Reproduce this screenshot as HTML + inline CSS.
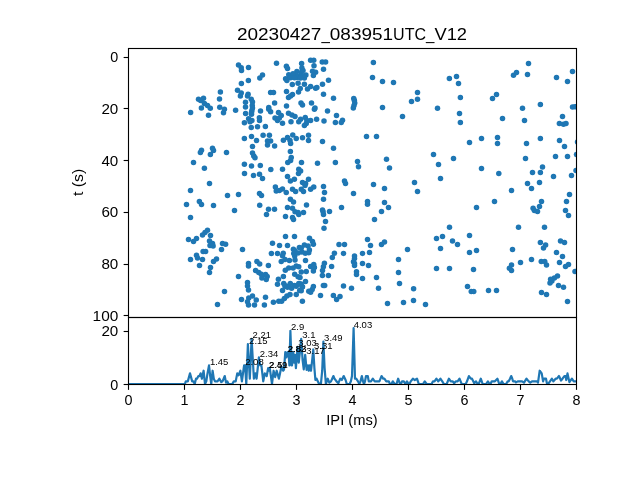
<!DOCTYPE html>
<html><head><meta charset="utf-8"><title>20230427_083951UTC_V12</title>
<style>
html,body{margin:0;padding:0;background:#fff;overflow:hidden}
svg{display:block;font-family:"Liberation Sans",sans-serif}
</style></head>
<body>
<svg width="640" height="480" viewBox="0 0 640 480">
<defs>
<clipPath id="c0"><rect x="128.0" y="48.0" width="448.0" height="268.8"/></clipPath>
<clipPath id="c1"><rect x="128.0" y="316.8" width="448.0" height="67.19999999999999"/></clipPath>
<filter id="gray" x="0" y="0" width="640" height="480" filterUnits="userSpaceOnUse" color-interpolation-filters="sRGB"><feColorMatrix type="saturate" values="0"/></filter>
</defs>
<rect width="640" height="480" fill="#fff"/>
<g id="dots" fill="#1f77b4" stroke="none" clip-path="url(#c0)">
<circle cx="238.5" cy="64.9" r="2.75"/>
<circle cx="241.25" cy="67.75" r="2.75"/>
<circle cx="241.5" cy="70.5" r="2.75"/>
<circle cx="248.5" cy="67.4" r="2.75"/>
<circle cx="248.4" cy="80.5" r="2.75"/>
<circle cx="241.4" cy="83.5" r="2.75"/>
<circle cx="237.5" cy="90.25" r="2.75"/>
<circle cx="241.25" cy="93" r="2.75"/>
<circle cx="240.4" cy="96.1" r="2.75"/>
<circle cx="248.1" cy="94.25" r="2.75"/>
<circle cx="247.5" cy="96.1" r="2.75"/>
<circle cx="220.4" cy="92.1" r="2.75"/>
<circle cx="219.5" cy="99.1" r="2.75"/>
<circle cx="198.5" cy="99.25" r="2.75"/>
<circle cx="200.6" cy="100.5" r="2.75"/>
<circle cx="203.5" cy="98.25" r="2.75"/>
<circle cx="251.25" cy="99.25" r="2.75"/>
<circle cx="252.5" cy="102" r="2.75"/>
<circle cx="245.5" cy="102.25" r="2.75"/>
<circle cx="204.4" cy="103.6" r="2.75"/>
<circle cx="207.5" cy="105.5" r="2.75"/>
<circle cx="252.25" cy="105.5" r="2.75"/>
<circle cx="201.4" cy="108" r="2.75"/>
<circle cx="210.3" cy="108.2" r="2.75"/>
<circle cx="219.75" cy="107.3" r="2.75"/>
<circle cx="245.5" cy="107" r="2.75"/>
<circle cx="276.5" cy="63.3" r="2.75"/>
<circle cx="286.4" cy="66.3" r="2.75"/>
<circle cx="287.5" cy="68.4" r="2.75"/>
<circle cx="262.5" cy="75" r="2.75"/>
<circle cx="259.8" cy="77.9" r="2.75"/>
<circle cx="301.6" cy="63.4" r="2.75"/>
<circle cx="310.6" cy="60.25" r="2.75"/>
<circle cx="313.75" cy="60.25" r="2.75"/>
<circle cx="322.25" cy="62.1" r="2.75"/>
<circle cx="325.6" cy="62.1" r="2.75"/>
<circle cx="314" cy="65.7" r="2.75"/>
<circle cx="323.5" cy="69.25" r="2.75"/>
<circle cx="312.5" cy="71.25" r="2.75"/>
<circle cx="315.6" cy="72.2" r="2.75"/>
<circle cx="313.4" cy="75.6" r="2.75"/>
<circle cx="328.5" cy="80.25" r="2.75"/>
<circle cx="322.5" cy="84.25" r="2.75"/>
<circle cx="323.5" cy="94.25" r="2.75"/>
<circle cx="333.5" cy="98.25" r="2.75"/>
<circle cx="270.6" cy="92.4" r="2.75"/>
<circle cx="273.5" cy="92.4" r="2.75"/>
<circle cx="286.5" cy="91.4" r="2.75"/>
<circle cx="292.5" cy="94.5" r="2.75"/>
<circle cx="290.6" cy="96.1" r="2.75"/>
<circle cx="288.5" cy="97.4" r="2.75"/>
<circle cx="298.5" cy="92" r="2.75"/>
<circle cx="300.25" cy="88.6" r="2.75"/>
<circle cx="292.3" cy="84.4" r="2.75"/>
<circle cx="298.1" cy="83.2" r="2.75"/>
<circle cx="304.4" cy="84.3" r="2.75"/>
<circle cx="307.5" cy="89" r="2.75"/>
<circle cx="310.6" cy="86.4" r="2.75"/>
<circle cx="315.6" cy="88.2" r="2.75"/>
<circle cx="316.9" cy="87.5" r="2.75"/>
<circle cx="274.6" cy="103" r="2.75"/>
<circle cx="268.75" cy="107.6" r="2.75"/>
<circle cx="286.5" cy="106.1" r="2.75"/>
<circle cx="301" cy="103" r="2.75"/>
<circle cx="302.5" cy="104.9" r="2.75"/>
<circle cx="311.5" cy="103" r="2.75"/>
<circle cx="315" cy="108" r="2.75"/>
<circle cx="285.6" cy="78.75" r="2.75"/>
<circle cx="288.75" cy="74.7" r="2.75"/>
<circle cx="296.9" cy="71.6" r="2.75"/>
<circle cx="301.9" cy="68.1" r="2.75"/>
<circle cx="305.9" cy="75" r="2.75"/>
<circle cx="304.4" cy="78.1" r="2.75"/>
<circle cx="292.5" cy="76.9" r="2.75"/>
<circle cx="298.75" cy="76.25" r="2.75"/>
<circle cx="301.25" cy="72.5" r="2.75"/>
<circle cx="295.6" cy="74.4" r="2.75"/>
<circle cx="286.9" cy="80.6" r="2.75"/>
<circle cx="297" cy="77.6" r="2.75"/>
<circle cx="293" cy="73.8" r="2.75"/>
<circle cx="290.5" cy="77.8" r="2.75"/>
<circle cx="303" cy="70.5" r="2.75"/>
<circle cx="294.5" cy="77.8" r="2.75"/>
<circle cx="302" cy="76" r="2.75"/>
<circle cx="300.5" cy="78" r="2.75"/>
<circle cx="373.4" cy="62.5" r="2.75"/>
<circle cx="372.5" cy="77.5" r="2.75"/>
<circle cx="382.5" cy="81.4" r="2.75"/>
<circle cx="393.5" cy="82.4" r="2.75"/>
<circle cx="417.5" cy="92.4" r="2.75"/>
<circle cx="417.5" cy="99.25" r="2.75"/>
<circle cx="411.5" cy="101.4" r="2.75"/>
<circle cx="353.75" cy="98.4" r="2.75"/>
<circle cx="354.4" cy="100.5" r="2.75"/>
<circle cx="354.75" cy="103" r="2.75"/>
<circle cx="354" cy="105.5" r="2.75"/>
<circle cx="353.3" cy="107.9" r="2.75"/>
<circle cx="382.5" cy="107.5" r="2.75"/>
<circle cx="449.4" cy="78.4" r="2.75"/>
<circle cx="456.5" cy="76.4" r="2.75"/>
<circle cx="458.5" cy="83.5" r="2.75"/>
<circle cx="460.4" cy="97.5" r="2.75"/>
<circle cx="496.5" cy="94.4" r="2.75"/>
<circle cx="492.5" cy="98.5" r="2.75"/>
<circle cx="437.5" cy="108.2" r="2.75"/>
<circle cx="528.5" cy="63.4" r="2.75"/>
<circle cx="516.5" cy="72.4" r="2.75"/>
<circle cx="513.5" cy="75.25" r="2.75"/>
<circle cx="527.5" cy="74.5" r="2.75"/>
<circle cx="556.5" cy="77.4" r="2.75"/>
<circle cx="567.5" cy="81.4" r="2.75"/>
<circle cx="572.5" cy="71.4" r="2.75"/>
<circle cx="540.4" cy="104.4" r="2.75"/>
<circle cx="522.5" cy="108.2" r="2.75"/>
<circle cx="572.5" cy="107" r="2.75"/>
<circle cx="575" cy="106.75" r="2.75"/>
<circle cx="190.6" cy="112.4" r="2.75"/>
<circle cx="208.5" cy="115.25" r="2.75"/>
<circle cx="224.4" cy="109.25" r="2.75"/>
<circle cx="223.5" cy="112.75" r="2.75"/>
<circle cx="235.6" cy="110.25" r="2.75"/>
<circle cx="245.6" cy="113.6" r="2.75"/>
<circle cx="252.5" cy="108" r="2.75"/>
<circle cx="251.9" cy="110.5" r="2.75"/>
<circle cx="251.5" cy="114.25" r="2.75"/>
<circle cx="248.6" cy="118.8" r="2.75"/>
<circle cx="251.5" cy="112.4" r="2.75"/>
<circle cx="251.9" cy="120.5" r="2.75"/>
<circle cx="250" cy="121.75" r="2.75"/>
<circle cx="244.4" cy="122.75" r="2.75"/>
<circle cx="251.25" cy="127.4" r="2.75"/>
<circle cx="257.5" cy="126.75" r="2.75"/>
<circle cx="244.4" cy="138.4" r="2.75"/>
<circle cx="251.5" cy="136.4" r="2.75"/>
<circle cx="256.5" cy="140.5" r="2.75"/>
<circle cx="252.5" cy="146.4" r="2.75"/>
<circle cx="252.5" cy="153" r="2.75"/>
<circle cx="253.75" cy="156.1" r="2.75"/>
<circle cx="255" cy="157.75" r="2.75"/>
<circle cx="212.5" cy="148.25" r="2.75"/>
<circle cx="213.5" cy="150.5" r="2.75"/>
<circle cx="210.4" cy="154.5" r="2.75"/>
<circle cx="201.5" cy="150.25" r="2.75"/>
<circle cx="200.4" cy="152.4" r="2.75"/>
<circle cx="226.5" cy="152.4" r="2.75"/>
<circle cx="193.5" cy="162.4" r="2.75"/>
<circle cx="204.4" cy="168.2" r="2.75"/>
<circle cx="244.4" cy="164.25" r="2.75"/>
<circle cx="251.5" cy="166.1" r="2.75"/>
<circle cx="260.5" cy="110.9" r="2.75"/>
<circle cx="268.75" cy="109.25" r="2.75"/>
<circle cx="270.6" cy="111.75" r="2.75"/>
<circle cx="259.4" cy="117.75" r="2.75"/>
<circle cx="259.5" cy="120.6" r="2.75"/>
<circle cx="265.4" cy="126.4" r="2.75"/>
<circle cx="278.5" cy="112.4" r="2.75"/>
<circle cx="281.25" cy="115.5" r="2.75"/>
<circle cx="275" cy="118" r="2.75"/>
<circle cx="277.5" cy="120.5" r="2.75"/>
<circle cx="282.5" cy="123.25" r="2.75"/>
<circle cx="279.4" cy="118" r="2.75"/>
<circle cx="288.5" cy="113.25" r="2.75"/>
<circle cx="291.9" cy="114.9" r="2.75"/>
<circle cx="295" cy="116.5" r="2.75"/>
<circle cx="291" cy="121.75" r="2.75"/>
<circle cx="300.6" cy="119.25" r="2.75"/>
<circle cx="298.75" cy="121.75" r="2.75"/>
<circle cx="305.25" cy="117.4" r="2.75"/>
<circle cx="306.9" cy="120.5" r="2.75"/>
<circle cx="306.25" cy="123.6" r="2.75"/>
<circle cx="304.4" cy="125.5" r="2.75"/>
<circle cx="310.6" cy="120.5" r="2.75"/>
<circle cx="316.6" cy="119.25" r="2.75"/>
<circle cx="324" cy="121.1" r="2.75"/>
<circle cx="314.4" cy="109.25" r="2.75"/>
<circle cx="327.5" cy="111.1" r="2.75"/>
<circle cx="336.5" cy="115.5" r="2.75"/>
<circle cx="335.4" cy="122.4" r="2.75"/>
<circle cx="263.1" cy="135.25" r="2.75"/>
<circle cx="269.4" cy="135.25" r="2.75"/>
<circle cx="267.5" cy="141.1" r="2.75"/>
<circle cx="270.6" cy="141.1" r="2.75"/>
<circle cx="267.5" cy="144.9" r="2.75"/>
<circle cx="274.6" cy="146.1" r="2.75"/>
<circle cx="283.4" cy="140.25" r="2.75"/>
<circle cx="287.5" cy="137.4" r="2.75"/>
<circle cx="290" cy="140.5" r="2.75"/>
<circle cx="290.6" cy="143.6" r="2.75"/>
<circle cx="292.75" cy="134.9" r="2.75"/>
<circle cx="296.25" cy="138.6" r="2.75"/>
<circle cx="302.5" cy="137.75" r="2.75"/>
<circle cx="308.5" cy="135.25" r="2.75"/>
<circle cx="308.5" cy="140.5" r="2.75"/>
<circle cx="322.5" cy="141.4" r="2.75"/>
<circle cx="333.5" cy="148.25" r="2.75"/>
<circle cx="290.4" cy="151.4" r="2.75"/>
<circle cx="291.25" cy="157.4" r="2.75"/>
<circle cx="290.6" cy="160.5" r="2.75"/>
<circle cx="287.75" cy="162.4" r="2.75"/>
<circle cx="301.5" cy="162.4" r="2.75"/>
<circle cx="317.5" cy="163.25" r="2.75"/>
<circle cx="335.4" cy="162.4" r="2.75"/>
<circle cx="260.3" cy="165.5" r="2.75"/>
<circle cx="402.5" cy="116.4" r="2.75"/>
<circle cx="342.5" cy="120.25" r="2.75"/>
<circle cx="341.25" cy="122.4" r="2.75"/>
<circle cx="366.5" cy="136.4" r="2.75"/>
<circle cx="376.5" cy="136.4" r="2.75"/>
<circle cx="386.5" cy="159.25" r="2.75"/>
<circle cx="357.5" cy="161.4" r="2.75"/>
<circle cx="358.5" cy="166.75" r="2.75"/>
<circle cx="389.5" cy="168" r="2.75"/>
<circle cx="459.5" cy="113.4" r="2.75"/>
<circle cx="460.4" cy="122.5" r="2.75"/>
<circle cx="481.5" cy="138.4" r="2.75"/>
<circle cx="469.5" cy="142.4" r="2.75"/>
<circle cx="497.5" cy="137.4" r="2.75"/>
<circle cx="497.5" cy="143.4" r="2.75"/>
<circle cx="433.5" cy="154.4" r="2.75"/>
<circle cx="453.5" cy="158.4" r="2.75"/>
<circle cx="438.5" cy="164.4" r="2.75"/>
<circle cx="481.5" cy="168.5" r="2.75"/>
<circle cx="502.5" cy="118.4" r="2.75"/>
<circle cx="524.5" cy="120.4" r="2.75"/>
<circle cx="562.5" cy="116.4" r="2.75"/>
<circle cx="559.4" cy="123.6" r="2.75"/>
<circle cx="563.5" cy="124.25" r="2.75"/>
<circle cx="566" cy="123.6" r="2.75"/>
<circle cx="540.4" cy="138.4" r="2.75"/>
<circle cx="526.5" cy="143.4" r="2.75"/>
<circle cx="559.5" cy="140.4" r="2.75"/>
<circle cx="564.5" cy="146.4" r="2.75"/>
<circle cx="525.5" cy="158.4" r="2.75"/>
<circle cx="555.5" cy="156.4" r="2.75"/>
<circle cx="567.5" cy="156.4" r="2.75"/>
<circle cx="576.5" cy="154.5" r="2.75"/>
<circle cx="577.5" cy="142" r="2.75"/>
<circle cx="542.5" cy="167" r="2.75"/>
<circle cx="244.5" cy="173.4" r="2.75"/>
<circle cx="253.5" cy="175.4" r="2.75"/>
<circle cx="259.5" cy="174.25" r="2.75"/>
<circle cx="209.5" cy="183.4" r="2.75"/>
<circle cx="190.5" cy="190.4" r="2.75"/>
<circle cx="227.5" cy="195.4" r="2.75"/>
<circle cx="238.5" cy="194.4" r="2.75"/>
<circle cx="199.4" cy="201.4" r="2.75"/>
<circle cx="201.5" cy="204.4" r="2.75"/>
<circle cx="186.5" cy="204.4" r="2.75"/>
<circle cx="213.5" cy="205.4" r="2.75"/>
<circle cx="234.5" cy="210.4" r="2.75"/>
<circle cx="190.5" cy="217.4" r="2.75"/>
<circle cx="270.8" cy="169.5" r="2.75"/>
<circle cx="282.5" cy="169.25" r="2.75"/>
<circle cx="298.75" cy="169.25" r="2.75"/>
<circle cx="300.6" cy="171.1" r="2.75"/>
<circle cx="298.5" cy="173.6" r="2.75"/>
<circle cx="262.5" cy="178.6" r="2.75"/>
<circle cx="287.5" cy="176.4" r="2.75"/>
<circle cx="290.4" cy="181.1" r="2.75"/>
<circle cx="294.4" cy="179.25" r="2.75"/>
<circle cx="308.5" cy="179.25" r="2.75"/>
<circle cx="302.5" cy="182.4" r="2.75"/>
<circle cx="305.6" cy="183.6" r="2.75"/>
<circle cx="305" cy="185.5" r="2.75"/>
<circle cx="313.75" cy="187.1" r="2.75"/>
<circle cx="310.6" cy="189.25" r="2.75"/>
<circle cx="323.5" cy="186.4" r="2.75"/>
<circle cx="324.5" cy="192.4" r="2.75"/>
<circle cx="323.5" cy="199.25" r="2.75"/>
<circle cx="275.4" cy="187.1" r="2.75"/>
<circle cx="276.25" cy="191.1" r="2.75"/>
<circle cx="279.4" cy="190.5" r="2.75"/>
<circle cx="282.5" cy="189" r="2.75"/>
<circle cx="286.25" cy="192.4" r="2.75"/>
<circle cx="292.5" cy="189.25" r="2.75"/>
<circle cx="295.6" cy="191.5" r="2.75"/>
<circle cx="301.25" cy="189.25" r="2.75"/>
<circle cx="303.5" cy="191.5" r="2.75"/>
<circle cx="259.5" cy="193.5" r="2.75"/>
<circle cx="261.5" cy="195.5" r="2.75"/>
<circle cx="290.4" cy="199.25" r="2.75"/>
<circle cx="293.5" cy="202" r="2.75"/>
<circle cx="306.5" cy="205.1" r="2.75"/>
<circle cx="259.7" cy="205.3" r="2.75"/>
<circle cx="287.5" cy="207.4" r="2.75"/>
<circle cx="292.5" cy="208.25" r="2.75"/>
<circle cx="295" cy="211.75" r="2.75"/>
<circle cx="298.1" cy="212.4" r="2.75"/>
<circle cx="298.75" cy="214.5" r="2.75"/>
<circle cx="303.5" cy="212.4" r="2.75"/>
<circle cx="268.5" cy="209.25" r="2.75"/>
<circle cx="274.5" cy="209.25" r="2.75"/>
<circle cx="266.5" cy="214.4" r="2.75"/>
<circle cx="285.5" cy="216.4" r="2.75"/>
<circle cx="292.5" cy="217.4" r="2.75"/>
<circle cx="293.5" cy="219.5" r="2.75"/>
<circle cx="322.5" cy="209.9" r="2.75"/>
<circle cx="323.1" cy="211.75" r="2.75"/>
<circle cx="323.5" cy="214.5" r="2.75"/>
<circle cx="329.5" cy="211.4" r="2.75"/>
<circle cx="325.5" cy="221.4" r="2.75"/>
<circle cx="324" cy="228.2" r="2.75"/>
<circle cx="344.5" cy="181.1" r="2.75"/>
<circle cx="345.5" cy="183.6" r="2.75"/>
<circle cx="373.5" cy="184.4" r="2.75"/>
<circle cx="384.5" cy="188.4" r="2.75"/>
<circle cx="414.5" cy="182.4" r="2.75"/>
<circle cx="417.5" cy="191.4" r="2.75"/>
<circle cx="353.5" cy="193.4" r="2.75"/>
<circle cx="367.5" cy="201.4" r="2.75"/>
<circle cx="367.5" cy="204.25" r="2.75"/>
<circle cx="384.5" cy="202.4" r="2.75"/>
<circle cx="388.5" cy="207.4" r="2.75"/>
<circle cx="381.5" cy="211.4" r="2.75"/>
<circle cx="341.5" cy="207.4" r="2.75"/>
<circle cx="374.5" cy="219.4" r="2.75"/>
<circle cx="498.8" cy="173.4" r="2.75"/>
<circle cx="440.5" cy="178.4" r="2.75"/>
<circle cx="494.5" cy="201.4" r="2.75"/>
<circle cx="476.5" cy="207.4" r="2.75"/>
<circle cx="449.5" cy="227.3" r="2.75"/>
<circle cx="532.5" cy="172.4" r="2.75"/>
<circle cx="540.4" cy="172.4" r="2.75"/>
<circle cx="553.5" cy="176.4" r="2.75"/>
<circle cx="571.5" cy="175.4" r="2.75"/>
<circle cx="576" cy="170.5" r="2.75"/>
<circle cx="527.5" cy="183.4" r="2.75"/>
<circle cx="539.5" cy="182.4" r="2.75"/>
<circle cx="531.5" cy="188.4" r="2.75"/>
<circle cx="511.5" cy="190.4" r="2.75"/>
<circle cx="569.5" cy="194.4" r="2.75"/>
<circle cx="566.5" cy="201.4" r="2.75"/>
<circle cx="541.5" cy="201.4" r="2.75"/>
<circle cx="539.5" cy="206.4" r="2.75"/>
<circle cx="533.1" cy="208.25" r="2.75"/>
<circle cx="534.4" cy="210.5" r="2.75"/>
<circle cx="537.5" cy="211.5" r="2.75"/>
<circle cx="565.5" cy="210.4" r="2.75"/>
<circle cx="568.5" cy="215.4" r="2.75"/>
<circle cx="518.5" cy="227.3" r="2.75"/>
<circle cx="544.5" cy="227.3" r="2.75"/>
<circle cx="207.5" cy="230.25" r="2.75"/>
<circle cx="205" cy="232.4" r="2.75"/>
<circle cx="202.5" cy="234.9" r="2.75"/>
<circle cx="210.5" cy="235.4" r="2.75"/>
<circle cx="188.5" cy="239.4" r="2.75"/>
<circle cx="196.5" cy="238.4" r="2.75"/>
<circle cx="193.5" cy="241.4" r="2.75"/>
<circle cx="209.5" cy="241.1" r="2.75"/>
<circle cx="212.5" cy="243.6" r="2.75"/>
<circle cx="210" cy="245.5" r="2.75"/>
<circle cx="213.1" cy="246.1" r="2.75"/>
<circle cx="222.5" cy="243.4" r="2.75"/>
<circle cx="225.6" cy="244.25" r="2.75"/>
<circle cx="221.5" cy="249.4" r="2.75"/>
<circle cx="242.5" cy="249.4" r="2.75"/>
<circle cx="203.1" cy="251.4" r="2.75"/>
<circle cx="205.6" cy="251.4" r="2.75"/>
<circle cx="196.5" cy="255.25" r="2.75"/>
<circle cx="197.5" cy="258" r="2.75"/>
<circle cx="202.5" cy="259.4" r="2.75"/>
<circle cx="190.5" cy="259.4" r="2.75"/>
<circle cx="199.5" cy="265.4" r="2.75"/>
<circle cx="216.5" cy="258.9" r="2.75"/>
<circle cx="213.5" cy="261.4" r="2.75"/>
<circle cx="210.5" cy="267.4" r="2.75"/>
<circle cx="209.5" cy="272.4" r="2.75"/>
<circle cx="248.5" cy="263.4" r="2.75"/>
<circle cx="248.5" cy="265.9" r="2.75"/>
<circle cx="256.9" cy="261.4" r="2.75"/>
<circle cx="259.7" cy="263.9" r="2.75"/>
<circle cx="255.6" cy="270.5" r="2.75"/>
<circle cx="258.75" cy="272.4" r="2.75"/>
<circle cx="238.5" cy="276.4" r="2.75"/>
<circle cx="247.5" cy="282.4" r="2.75"/>
<circle cx="247.5" cy="286.1" r="2.75"/>
<circle cx="285.5" cy="236.4" r="2.75"/>
<circle cx="294.5" cy="236.4" r="2.75"/>
<circle cx="272.5" cy="243.3" r="2.75"/>
<circle cx="279.5" cy="245.5" r="2.75"/>
<circle cx="287.5" cy="245.4" r="2.75"/>
<circle cx="293.4" cy="249.25" r="2.75"/>
<circle cx="295" cy="250.8" r="2.75"/>
<circle cx="293.75" cy="253.6" r="2.75"/>
<circle cx="294.7" cy="256.1" r="2.75"/>
<circle cx="298.1" cy="253" r="2.75"/>
<circle cx="299.4" cy="247.4" r="2.75"/>
<circle cx="271.4" cy="253.5" r="2.75"/>
<circle cx="277.5" cy="253.5" r="2.75"/>
<circle cx="283.25" cy="253.3" r="2.75"/>
<circle cx="282.5" cy="255.8" r="2.75"/>
<circle cx="309.5" cy="238.3" r="2.75"/>
<circle cx="312.5" cy="241.4" r="2.75"/>
<circle cx="313.4" cy="244.25" r="2.75"/>
<circle cx="304.4" cy="244.9" r="2.75"/>
<circle cx="308.1" cy="246.1" r="2.75"/>
<circle cx="309.4" cy="249.9" r="2.75"/>
<circle cx="308.75" cy="252.7" r="2.75"/>
<circle cx="305.3" cy="253.3" r="2.75"/>
<circle cx="301.9" cy="252.1" r="2.75"/>
<circle cx="301.25" cy="248" r="2.75"/>
<circle cx="339" cy="244.4" r="2.75"/>
<circle cx="334.4" cy="253.3" r="2.75"/>
<circle cx="332.3" cy="257.5" r="2.75"/>
<circle cx="268.4" cy="265.4" r="2.75"/>
<circle cx="281.25" cy="261.4" r="2.75"/>
<circle cx="285" cy="259.4" r="2.75"/>
<circle cx="289.4" cy="260.5" r="2.75"/>
<circle cx="295" cy="259.9" r="2.75"/>
<circle cx="285.3" cy="270.2" r="2.75"/>
<circle cx="288.75" cy="268" r="2.75"/>
<circle cx="293.1" cy="268" r="2.75"/>
<circle cx="296.25" cy="266.1" r="2.75"/>
<circle cx="298.75" cy="266.75" r="2.75"/>
<circle cx="294.7" cy="274.25" r="2.75"/>
<circle cx="298.1" cy="276.75" r="2.75"/>
<circle cx="283.4" cy="276.4" r="2.75"/>
<circle cx="278.4" cy="279.25" r="2.75"/>
<circle cx="277.5" cy="284.25" r="2.75"/>
<circle cx="283.75" cy="283.6" r="2.75"/>
<circle cx="286.25" cy="286.1" r="2.75"/>
<circle cx="290.3" cy="283.6" r="2.75"/>
<circle cx="294.4" cy="285.5" r="2.75"/>
<circle cx="298.75" cy="283.6" r="2.75"/>
<circle cx="261.25" cy="274.25" r="2.75"/>
<circle cx="265.6" cy="274.6" r="2.75"/>
<circle cx="267.2" cy="276.4" r="2.75"/>
<circle cx="266.25" cy="279.6" r="2.75"/>
<circle cx="261.9" cy="278" r="2.75"/>
<circle cx="305.5" cy="260.4" r="2.75"/>
<circle cx="310.6" cy="266.4" r="2.75"/>
<circle cx="313.75" cy="264.6" r="2.75"/>
<circle cx="314.4" cy="267.4" r="2.75"/>
<circle cx="313.4" cy="271.1" r="2.75"/>
<circle cx="301.25" cy="272" r="2.75"/>
<circle cx="306.25" cy="271.4" r="2.75"/>
<circle cx="324.4" cy="263.3" r="2.75"/>
<circle cx="323.4" cy="266.75" r="2.75"/>
<circle cx="322.5" cy="270.5" r="2.75"/>
<circle cx="322.4" cy="275.5" r="2.75"/>
<circle cx="331.6" cy="266.4" r="2.75"/>
<circle cx="328.4" cy="275.5" r="2.75"/>
<circle cx="305.5" cy="281.4" r="2.75"/>
<circle cx="300" cy="277.4" r="2.75"/>
<circle cx="301.25" cy="284.25" r="2.75"/>
<circle cx="302.5" cy="286.75" r="2.75"/>
<circle cx="313.4" cy="286.4" r="2.75"/>
<circle cx="323.4" cy="285.4" r="2.75"/>
<circle cx="324.7" cy="285.4" r="2.75"/>
<circle cx="265.5" cy="297.25" r="2.75"/>
<circle cx="264.4" cy="305" r="2.75"/>
<circle cx="273.4" cy="302.25" r="2.75"/>
<circle cx="278.75" cy="301.3" r="2.75"/>
<circle cx="281.6" cy="301.3" r="2.75"/>
<circle cx="284.4" cy="298.5" r="2.75"/>
<circle cx="286.9" cy="296" r="2.75"/>
<circle cx="290" cy="294.4" r="2.75"/>
<circle cx="296.25" cy="294.4" r="2.75"/>
<circle cx="299.7" cy="290.4" r="2.75"/>
<circle cx="285" cy="286.3" r="2.75"/>
<circle cx="282.5" cy="290.4" r="2.75"/>
<circle cx="287.5" cy="287.25" r="2.75"/>
<circle cx="291.6" cy="288.2" r="2.75"/>
<circle cx="296.25" cy="286.3" r="2.75"/>
<circle cx="312.2" cy="289.4" r="2.75"/>
<circle cx="308.75" cy="291.3" r="2.75"/>
<circle cx="310.6" cy="292.25" r="2.75"/>
<circle cx="300.6" cy="284.1" r="2.75"/>
<circle cx="302.2" cy="286.9" r="2.75"/>
<circle cx="301.25" cy="290.7" r="2.75"/>
<circle cx="320.5" cy="295.4" r="2.75"/>
<circle cx="333.4" cy="295.4" r="2.75"/>
<circle cx="336.6" cy="299.4" r="2.75"/>
<circle cx="340" cy="296.5" r="2.75"/>
<circle cx="302.4" cy="301.3" r="2.75"/>
<circle cx="344.5" cy="244.4" r="2.75"/>
<circle cx="367.5" cy="239.4" r="2.75"/>
<circle cx="370.5" cy="245.4" r="2.75"/>
<circle cx="384.5" cy="242.1" r="2.75"/>
<circle cx="381.5" cy="244.4" r="2.75"/>
<circle cx="407.5" cy="249.4" r="2.75"/>
<circle cx="343.5" cy="253.4" r="2.75"/>
<circle cx="362.5" cy="253.4" r="2.75"/>
<circle cx="369.5" cy="252.4" r="2.75"/>
<circle cx="354.5" cy="256.1" r="2.75"/>
<circle cx="354.5" cy="258.6" r="2.75"/>
<circle cx="353.5" cy="261.75" r="2.75"/>
<circle cx="354.5" cy="263.6" r="2.75"/>
<circle cx="354.5" cy="265.5" r="2.75"/>
<circle cx="362.5" cy="263.4" r="2.75"/>
<circle cx="368.5" cy="265.4" r="2.75"/>
<circle cx="398.5" cy="259.4" r="2.75"/>
<circle cx="356.5" cy="271.75" r="2.75"/>
<circle cx="356.5" cy="274.5" r="2.75"/>
<circle cx="362.5" cy="278.4" r="2.75"/>
<circle cx="376.5" cy="277.4" r="2.75"/>
<circle cx="398.5" cy="272.4" r="2.75"/>
<circle cx="399.5" cy="283.4" r="2.75"/>
<circle cx="343.5" cy="286.1" r="2.75"/>
<circle cx="351.5" cy="288.2" r="2.75"/>
<circle cx="378.5" cy="288.2" r="2.75"/>
<circle cx="413.6" cy="288.8" r="2.75"/>
<circle cx="442.5" cy="236.4" r="2.75"/>
<circle cx="436.5" cy="238.4" r="2.75"/>
<circle cx="469.5" cy="235.4" r="2.75"/>
<circle cx="452.5" cy="241.1" r="2.75"/>
<circle cx="457.5" cy="244.4" r="2.75"/>
<circle cx="440.5" cy="248.4" r="2.75"/>
<circle cx="476.5" cy="250.4" r="2.75"/>
<circle cx="469.5" cy="252.4" r="2.75"/>
<circle cx="436.5" cy="268.4" r="2.75"/>
<circle cx="449.5" cy="268.4" r="2.75"/>
<circle cx="473.5" cy="269.4" r="2.75"/>
<circle cx="467.5" cy="286.4" r="2.75"/>
<circle cx="540.4" cy="242.4" r="2.75"/>
<circle cx="545.6" cy="244.9" r="2.75"/>
<circle cx="543.5" cy="248" r="2.75"/>
<circle cx="560.5" cy="241.1" r="2.75"/>
<circle cx="564.5" cy="242.4" r="2.75"/>
<circle cx="512.5" cy="249.4" r="2.75"/>
<circle cx="556.5" cy="252.4" r="2.75"/>
<circle cx="562.5" cy="256.4" r="2.75"/>
<circle cx="531.5" cy="259.4" r="2.75"/>
<circle cx="520.5" cy="262.4" r="2.75"/>
<circle cx="541.25" cy="261.4" r="2.75"/>
<circle cx="544.75" cy="261.4" r="2.75"/>
<circle cx="546.5" cy="265.1" r="2.75"/>
<circle cx="559.5" cy="262.4" r="2.75"/>
<circle cx="568.5" cy="264.4" r="2.75"/>
<circle cx="565.5" cy="266.4" r="2.75"/>
<circle cx="511.5" cy="265.1" r="2.75"/>
<circle cx="509.4" cy="268.25" r="2.75"/>
<circle cx="511.5" cy="270.5" r="2.75"/>
<circle cx="575" cy="271.4" r="2.75"/>
<circle cx="557.5" cy="276.1" r="2.75"/>
<circle cx="554.4" cy="278" r="2.75"/>
<circle cx="550.6" cy="279.25" r="2.75"/>
<circle cx="551.9" cy="281.1" r="2.75"/>
<circle cx="550" cy="283" r="2.75"/>
<circle cx="558.5" cy="285.4" r="2.75"/>
<circle cx="563.5" cy="287.3" r="2.75"/>
<circle cx="224.5" cy="291.4" r="2.75"/>
<circle cx="217.5" cy="304.4" r="2.75"/>
<circle cx="248.5" cy="289.9" r="2.75"/>
<circle cx="241.5" cy="299.4" r="2.75"/>
<circle cx="248.75" cy="298" r="2.75"/>
<circle cx="252.5" cy="296.1" r="2.75"/>
<circle cx="256.25" cy="299.9" r="2.75"/>
<circle cx="247.5" cy="301.75" r="2.75"/>
<circle cx="248.5" cy="304.9" r="2.75"/>
<circle cx="254.5" cy="304.9" r="2.75"/>
<circle cx="387.5" cy="303.4" r="2.75"/>
<circle cx="403.5" cy="302.4" r="2.75"/>
<circle cx="413.5" cy="300.4" r="2.75"/>
<circle cx="425.5" cy="304.4" r="2.75"/>
<circle cx="471.25" cy="291.4" r="2.75"/>
<circle cx="473.75" cy="291.4" r="2.75"/>
<circle cx="488.5" cy="290.4" r="2.75"/>
<circle cx="496.5" cy="290.4" r="2.75"/>
<circle cx="541.5" cy="292.4" r="2.75"/>
<circle cx="546.5" cy="294.4" r="2.75"/>
<circle cx="567.5" cy="301.4" r="2.75"/>
</g>
<polyline id="ipi" points="128,384 184.9,384 185.8,381.34 187.8,381.34 190,373.38 192.2,381.34 193.4,381.34 194.7,384 196,378.69 197,378.69 198.4,376.03 199.5,376.03 200.6,373.38 201.9,378.69 203.6,370.72 205,384 206.3,381.34 207.5,373.38 209,365.41 210.2,376.03 211.25,384 212.6,370.72 213.8,378.69 215,381.34 217.5,381.34 219.4,378.69 221.3,382.14 222.5,381.34 224.75,376.03 226,382.67 227.25,381.34 228.5,384 232.25,384 233.8,381.34 235.7,381.34 237.25,373.38 238.6,375.23 240.4,370.72 241.9,381.34 244.1,365.41 245.1,365.41 246.3,384 247.9,344.16 249.8,378.69 251.6,338.85 253.9,378.69 255.3,373.38 256.6,378.69 258.9,357.44 260.2,365.41 261.4,365.41 263.25,381.34 264.8,373.38 266.7,376.03 268.2,368.06 269,370.72 269.8,368.06 272,384 273.6,370.72 275.2,377.09 276.7,370.72 278.9,378.69 281.4,366.74 283.25,370.72 284,369.66 285.3,352.13 286.4,357.44 287.5,352.13 288.5,352.13 289.4,365.41 290.4,330.88 291.6,365.41 292,365.41 293.25,352.13 294.1,362.75 295,354.78 295.9,368.06 297.6,346.81 298.75,362.75 299.9,352.13 301.2,338.85 302.6,360.09 303.75,369.39 305.2,354.78 306.6,369.92 307.9,365.41 308.8,370.72 309.8,365.41 311,370.72 312.2,360.09 313.3,349.47 314.4,368.06 315.4,380.02 316.6,378.69 317.8,381.34 319.1,384 321,383.2 322.2,370.72 323.4,341.5 324.6,368.06 325.9,384 327.75,378.69 329.3,382.67 331,381.34 332.2,378.69 333.4,376.03 334.5,378.69 335.6,380.02 336.5,381.34 338.4,383.2 340.25,378.69 341.8,380.02 343.7,376.03 345.6,380.02 346.8,384 349.6,384 350.9,381.34 352,376.03 353.6,328.22 355,378.69 356.2,378.69 358,381.34 359.3,384 360.5,381.34 361.85,376.03 363,381.34 364,384 365,381.34 366,376.03 367.8,376.03 368.75,381.34 371,381.34 372.8,378.69 374.7,381.34 379.4,381.34 380.5,378.69 381.6,376.03 383.2,378.69 384.4,378.69 386.25,381.34 388.75,381.34 390,384 391.5,384 392.8,381.34 394.7,384 396.5,384 398.15,378.69 400,384 401,384 402,381.34 403.8,381.34 405.4,384 407,381.34 408.5,384 409.5,384 410.7,381.34 412.9,378.69 414.75,380.02 417,378.69 418.8,384 423,384 424.75,381.34 426.6,384 431.6,384 433,381.34 434.5,381.34 436.4,378.69 438.25,381.34 440.4,378.69 442.3,381.34 443.9,384 446.7,384 448.9,378.69 450.75,381.34 452.6,381.34 454.2,383.2 455.75,381.34 457.6,381.34 459.5,378.69 461.7,384 465.75,384 467,381.34 468.9,376.03 470.8,378.69 472,378.69 474.25,383.2 476,381.34 477.7,384 479,383.2 480.8,378.69 482.7,384 486.1,384 487.9,381.34 489.6,384 490.5,384 491.75,381.34 494.9,381.34 497.4,378.69 499.25,384 500.5,384 501.9,381.34 503.6,384 506.1,384 507.7,381.34 508.7,381.34 510,378.69 511.2,376.03 512.3,378.69 513,381.34 515,381.34 516,382.41 517.75,381.34 519.6,381.34 522.1,381.34 524,382.67 526.5,378.69 528.7,381.34 530.25,382.67 532,381.34 535,381.34 537,381.34 538,382.67 539.7,370.72 541.7,373.38 543.1,381.34 544,378.69 546,378.69 546.9,383.2 548.1,384 550,381.34 551.9,378.69 553.4,381.34 555.6,378.69 556.9,378.69 559,376.03 561,380.55 562.5,378.69 564.4,376.03 565.6,376.03 566.25,380.02 567.5,373.38 569.4,382.14 571.9,378.69 573.75,381.34 576,381.34" fill="none" stroke="#1f77b4" stroke-width="2.2" stroke-linejoin="round" stroke-linecap="square" clip-path="url(#c1)"/>
<g id="ann" fill="#000" stroke="none" filter="url(#gray)">
<text x="209.9" y="365.01" font-size="8.5" text-anchor="start" textLength="18.5" lengthAdjust="spacingAndGlyphs">1.45</text>
<text x="245.18" y="365.01" font-size="8.5" text-anchor="start" textLength="18.5" lengthAdjust="spacingAndGlyphs">2.08</text>
<text x="249.1" y="343.76" font-size="8.5" text-anchor="start" textLength="18.5" lengthAdjust="spacingAndGlyphs">2.15</text>
<text x="252.46" y="338.45" font-size="8.5" text-anchor="start" textLength="18.5" lengthAdjust="spacingAndGlyphs">2.21</text>
<text x="259.74" y="357.04" font-size="8.5" text-anchor="start" textLength="18.5" lengthAdjust="spacingAndGlyphs">2.34</text>
<text x="268.7" y="367.66" font-size="8.5" text-anchor="start" textLength="18.5" lengthAdjust="spacingAndGlyphs">2.49</text>
<text x="269.26" y="367.66" font-size="8.5" text-anchor="start" textLength="18.5" lengthAdjust="spacingAndGlyphs">2.51</text>
<text x="287.46" y="351.73" font-size="8.5" text-anchor="start" textLength="18.5" lengthAdjust="spacingAndGlyphs">2.82</text>
<text x="288.02" y="351.73" font-size="8.5" text-anchor="start" textLength="18.5" lengthAdjust="spacingAndGlyphs">2.83</text>
<text x="291.1" y="330.48" font-size="8.5" text-anchor="start" textLength="13.2" lengthAdjust="spacingAndGlyphs">2.9</text>
<text x="298.38" y="346.41" font-size="8.5" text-anchor="start" textLength="18.5" lengthAdjust="spacingAndGlyphs">3.03</text>
<text x="302.3" y="338.45" font-size="8.5" text-anchor="start" textLength="13.2" lengthAdjust="spacingAndGlyphs">3.1</text>
<text x="306.22" y="354.38" font-size="8.5" text-anchor="start" textLength="18.5" lengthAdjust="spacingAndGlyphs">3.17</text>
<text x="314.06" y="349.07" font-size="8.5" text-anchor="start" textLength="18.5" lengthAdjust="spacingAndGlyphs">3.31</text>
<text x="324.14" y="341.1" font-size="8.5" text-anchor="start" textLength="18.5" lengthAdjust="spacingAndGlyphs">3.49</text>
<text x="353.68" y="327.82" font-size="8.5" text-anchor="start" textLength="18.5" lengthAdjust="spacingAndGlyphs">4.03</text>
</g>
<g id="frame" fill="none" stroke="#000" stroke-width="1.11">
<rect x="128.5" y="48.5" width="448" height="269"/>
<rect x="128.5" y="317.5" width="448" height="67"/>
<line x1="123.64" y1="57.5" x2="128" y2="57.5"/>
<line x1="123.64" y1="108.5" x2="128" y2="108.5"/>
<line x1="123.64" y1="160.5" x2="128" y2="160.5"/>
<line x1="123.64" y1="212.5" x2="128" y2="212.5"/>
<line x1="123.64" y1="264.5" x2="128" y2="264.5"/>
<line x1="123.64" y1="315.5" x2="128" y2="315.5"/>
<line x1="123.64" y1="331.5" x2="128" y2="331.5"/>
<line x1="123.64" y1="384.5" x2="128" y2="384.5"/>
<line x1="128.5" y1="385" x2="128.5" y2="389.86"/>
<line x1="184.5" y1="385" x2="184.5" y2="389.86"/>
<line x1="240.5" y1="385" x2="240.5" y2="389.86"/>
<line x1="296.5" y1="385" x2="296.5" y2="389.86"/>
<line x1="352.5" y1="385" x2="352.5" y2="389.86"/>
<line x1="408.5" y1="385" x2="408.5" y2="389.86"/>
<line x1="464.5" y1="385" x2="464.5" y2="389.86"/>
<line x1="520.5" y1="385" x2="520.5" y2="389.86"/>
<line x1="576.5" y1="385" x2="576.5" y2="389.86"/>
</g>
<g id="labels" fill="#000" stroke="none" filter="url(#gray)">
<text y="39.9" font-size="17" text-anchor="start"><tspan x="236.94" textLength="84.5" lengthAdjust="spacingAndGlyphs">20230427</tspan><tspan x="321.44" textLength="8.38" lengthAdjust="spacingAndGlyphs">_</tspan><tspan x="329.82" textLength="63.25" lengthAdjust="spacingAndGlyphs">083951</tspan><tspan x="393.06" textLength="33.0" lengthAdjust="spacingAndGlyphs">UTC</tspan><tspan x="426.06" textLength="8.38" lengthAdjust="spacingAndGlyphs">_</tspan><tspan x="434.44" textLength="32.62" lengthAdjust="spacingAndGlyphs">V12</tspan></text>
<text x="118.3" y="62.39" font-size="14.1" text-anchor="end" textLength="8.0" lengthAdjust="spacingAndGlyphs">0</text>
<text x="118.3" y="114.08" font-size="14.1" text-anchor="end" textLength="16.9" lengthAdjust="spacingAndGlyphs">20</text>
<text x="118.3" y="165.77" font-size="14.1" text-anchor="end" textLength="16.9" lengthAdjust="spacingAndGlyphs">40</text>
<text x="118.3" y="217.46" font-size="14.1" text-anchor="end" textLength="16.9" lengthAdjust="spacingAndGlyphs">60</text>
<text x="118.3" y="269.16" font-size="14.1" text-anchor="end" textLength="16.9" lengthAdjust="spacingAndGlyphs">80</text>
<text x="118.3" y="320.85" font-size="14.1" text-anchor="end" textLength="25.7" lengthAdjust="spacingAndGlyphs">100</text>
<text x="118.3" y="389.6" font-size="14.1" text-anchor="end" textLength="8.0" lengthAdjust="spacingAndGlyphs">0</text>
<text x="118.3" y="336.48" font-size="14.1" text-anchor="end" textLength="16.9" lengthAdjust="spacingAndGlyphs">20</text>
<text x="128.4" y="405.1" font-size="14.1" text-anchor="middle" textLength="8.0" lengthAdjust="spacingAndGlyphs">0</text>
<text x="184.4" y="405.1" font-size="14.1" text-anchor="middle" textLength="8.0" lengthAdjust="spacingAndGlyphs">1</text>
<text x="240.4" y="405.1" font-size="14.1" text-anchor="middle" textLength="8.0" lengthAdjust="spacingAndGlyphs">2</text>
<text x="296.4" y="405.1" font-size="14.1" text-anchor="middle" textLength="8.0" lengthAdjust="spacingAndGlyphs">3</text>
<text x="352.4" y="405.1" font-size="14.1" text-anchor="middle" textLength="8.0" lengthAdjust="spacingAndGlyphs">4</text>
<text x="408.4" y="405.1" font-size="14.1" text-anchor="middle" textLength="8.0" lengthAdjust="spacingAndGlyphs">5</text>
<text x="464.4" y="405.1" font-size="14.1" text-anchor="middle" textLength="8.0" lengthAdjust="spacingAndGlyphs">6</text>
<text x="520.4" y="405.1" font-size="14.1" text-anchor="middle" textLength="8.0" lengthAdjust="spacingAndGlyphs">7</text>
<text x="576.4" y="405.1" font-size="14.1" text-anchor="middle" textLength="8.0" lengthAdjust="spacingAndGlyphs">8</text>
<text x="352" y="424.6" font-size="14.1" text-anchor="middle" textLength="51.5" lengthAdjust="spacingAndGlyphs">IPI (ms)</text>
<text transform="translate(83.1,182.4) rotate(-90)" font-size="14.1" text-anchor="middle" textLength="27.3" lengthAdjust="spacingAndGlyphs">t (s)</text>
</g>
</svg>
</body></html>
